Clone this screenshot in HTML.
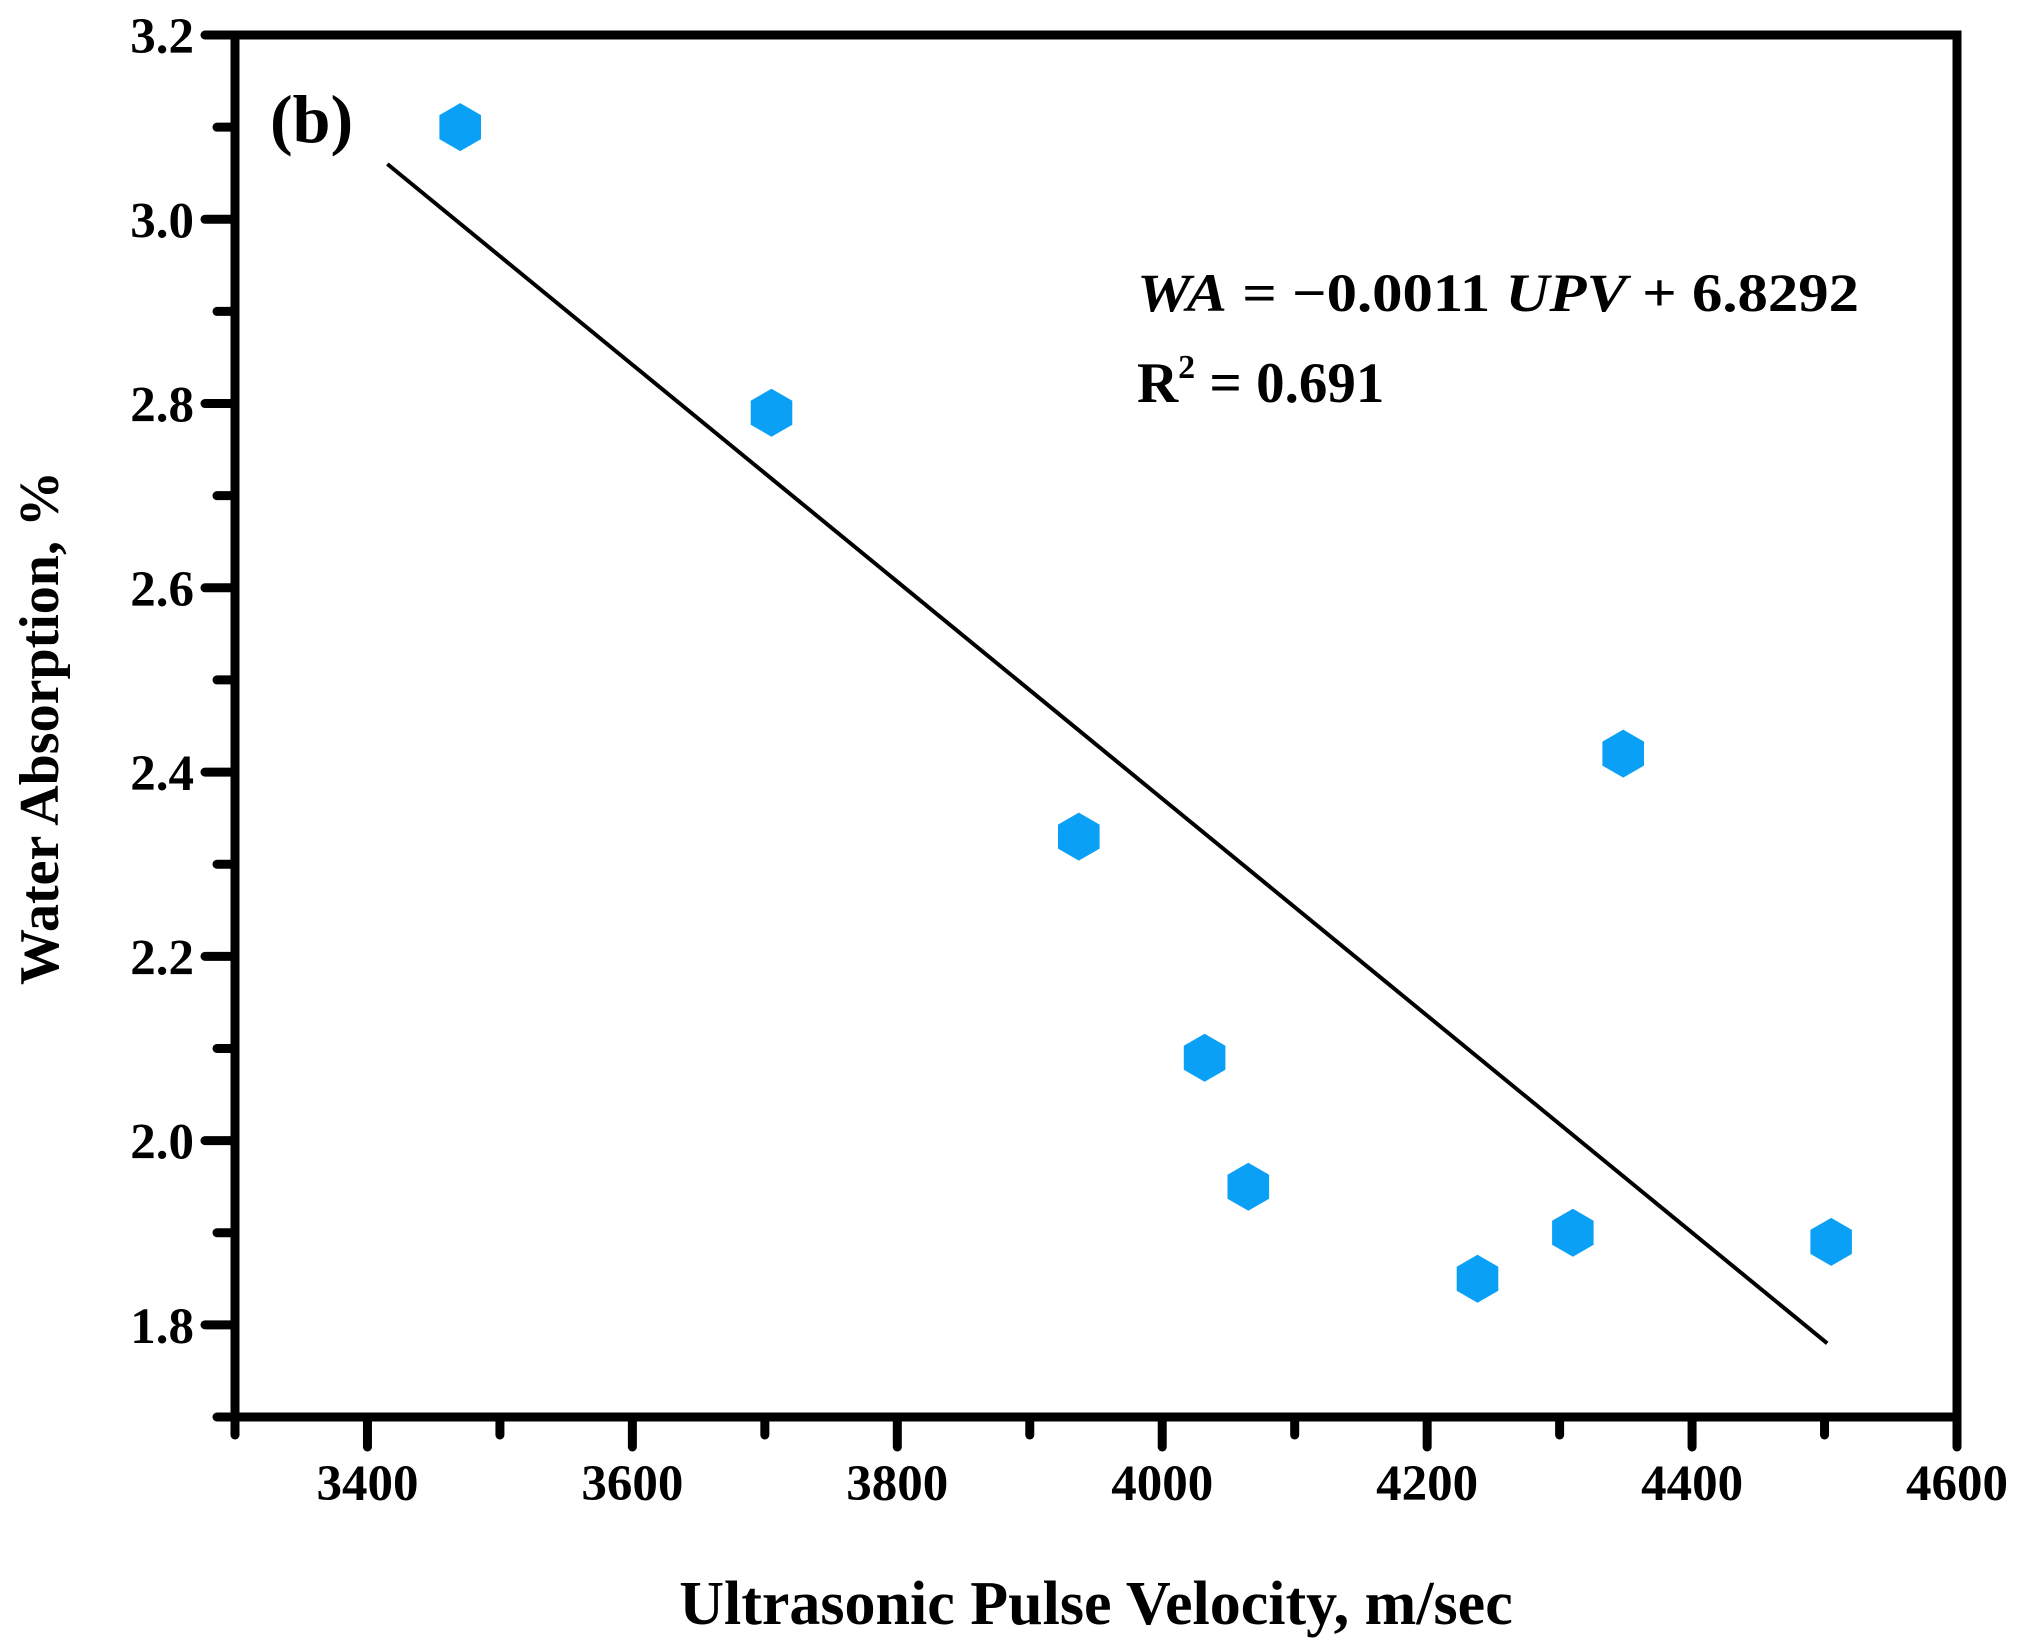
<!DOCTYPE html>
<html><head><meta charset="utf-8"><style>
html,body{margin:0;padding:0;background:#fff;}
svg{display:block;font-family:"Liberation Serif",serif;font-weight:bold;}
</style></head><body>
<svg id="chart" width="2017" height="1649" viewBox="0 0 2017 1649">
<g id="ticks"></g>
<g id="marks"></g>
<text x="270" y="142" font-size="68">(b)</text>
<text x="1137" y="311" font-size="54" textLength="722" lengthAdjust="spacingAndGlyphs"><tspan font-style="italic">WA</tspan> = −0.0011 <tspan font-style="italic">UPV</tspan> + 6.8292</text>
<text x="1137" y="402" font-size="57">R<tspan dy="-24" font-size="34">2</tspan><tspan dy="24"> = 0.691</tspan></text>
<text x="1096" y="1624" font-size="62" text-anchor="middle">Ultrasonic Pulse Velocity, m/sec</text>
<text transform="translate(58,728) rotate(-90)" font-size="56" text-anchor="middle">Water Absorption, %</text>
</svg>
<script>
const upv = [3470, 3705, 3937, 4032, 4065, 4238, 4310, 4348, 4505];
const wa = [3.10, 2.79, 2.33, 2.09, 1.95, 1.85, 1.90, 2.42, 1.89];
const fitStart = [3415, 3.06];
const fitEnd = [4502, 1.78];
const xTicks = [3400, 3600, 3800, 4000, 4200, 4400, 4600];
const yTicks = [1.8, 2.0, 2.2, 2.4, 2.6, 2.8, 3.0, 3.2];

const X0=235, X1=1957, Y0=1417, Y1=35, xmin=3300, xmax=4600, ymin=1.7, ymax=3.2;
function sx(v){return X0+(v-xmin)/(xmax-xmin)*(X1-X0);}
function sy(v){return Y0-(v-ymin)/(ymax-ymin)*(Y0-Y1);}
const NS='http://www.w3.org/2000/svg';
const tg=document.getElementById('ticks'), mg=document.getElementById('marks');
function mk(tag,attrs,parent){const e=document.createElementNS(NS,tag);for(const k in attrs)e.setAttribute(k,attrs[k]);parent.appendChild(e);return e;}

const frame=mk('rect',{x:X0,y:Y1,width:X1-X0,height:Y0-Y1,fill:'none',stroke:'#000','stroke-width':9},tg);



for(let v=xmin; v<=xmax; v+=100){
  const major = v%200===0;
  const t=mk('line',{x1:sx(v),x2:sx(v),y1:Y0,y2:Y0+(major?30:18),stroke:'#000','stroke-width':9,'stroke-linecap':'round'},tg);
  
  
}
xTicks.forEach(v=>{
  const t=mk('text',{x:sx(v),y:1500,'font-size':51,'text-anchor':'middle'},tg);
  t.textContent=String(v);
  
  
});
for(let i=0;i<=15;i++){
  const v=ymin+i*0.1;
  const major = i%2===1;
  const t=mk('line',{x1:X0,x2:X0-(major?30:18),y1:sy(v),y2:sy(v),stroke:'#000','stroke-width':9,'stroke-linecap':'round'},tg);
  
  
}
yTicks.forEach(v=>{
  const t=mk('text',{x:194,y:sy(v)+18,'font-size':51,'text-anchor':'end'},tg);
  t.textContent=v.toFixed(1);
  
  
});

const fl=mk('line',{x1:sx(fitStart[0]),y1:sy(fitStart[1]),x2:sx(fitEnd[0]),y2:sy(fitEnd[1]),stroke:'#000','stroke-width':4},mg);



upv.forEach((u,i)=>{
  const cx=sx(u), cy=sy(wa[i]), r=24;
  const pts=[];
  for(let k=0;k<6;k++){const a=Math.PI/2+k*Math.PI/3;pts.push((cx+r*Math.cos(a)).toFixed(1)+','+(cy+r*Math.sin(a)).toFixed(1));}
  const p=mk('polygon',{points:pts.join(' '),fill:'#0aa0f5'},mg);
  
  
});
</script>
</body></html>
